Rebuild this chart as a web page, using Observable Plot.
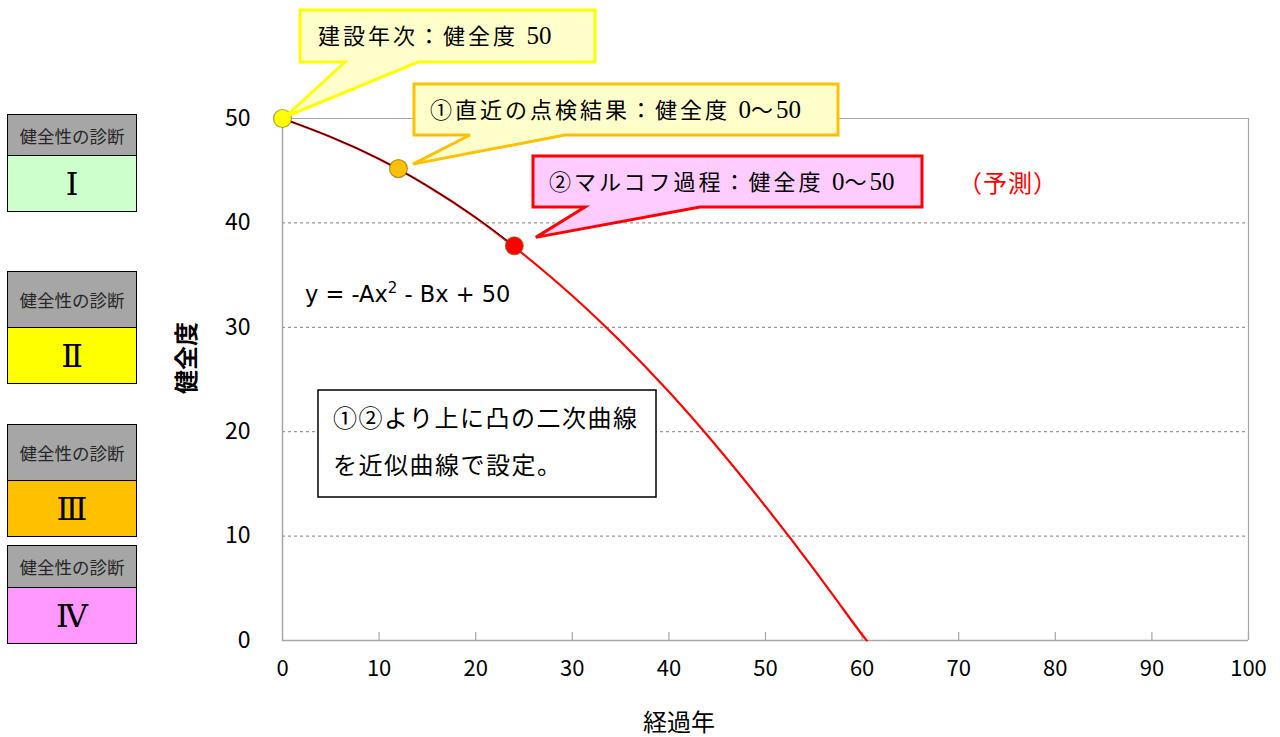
<!DOCTYPE html>
<html>
<head>
<meta charset="utf-8">
<script src="https://cdn.jsdelivr.net/npm/d3@7"></script>
<script src="https://cdn.jsdelivr.net/npm/@observablehq/plot@0.6"></script>
<style>
  body { margin: 0; background: #fff; }
  #wrap { position: relative; width: 1280px; height: 737px; overflow: hidden; background:#fff; }
  .diag { position: absolute; left: 7px; width: 130px; border: 1.5px solid #000; box-sizing: border-box; }
  .diag .hd { background: #a6a6a6; color: #262626; font: 17.5px "Noto Sans CJK JP", sans-serif; display: flex; align-items: center; justify-content: center; border-bottom: 1.5px solid #000; box-sizing: border-box; }
  .diag .bd { color: #000; font: 32px "Liberation Serif", "DejaVu Serif", "Noto Sans CJK JP", serif; display: flex; align-items: center; justify-content: center; }
</style>
</head>
<body>
<div id="wrap"></div>
<script>
// ---- data ----
const curveYears  = [0, 5, 10, 15, 20, 25, 30, 35, 40, 45, 50, 55, 60, 60.5];
const curveHealth = [50, 48.3, 46.2, 43.6, 40.6, 37.0, 33.1, 28.7, 23.9, 18.6, 12.9, 6.9, 0.5, 0];
const pointYears  = [0, 12, 24];
const pointHealth = [50, 45.2, 37.8];
const pointColors = ["#ffff00", "#ffc000", "#ff0000"];
const xTicks = [0, 10, 20, 30, 40, 50, 60, 70, 80, 90, 100];
const yTicks = [0, 10, 20, 30, 40, 50];
const gridValues = [10, 20, 30, 40];
const diagLabels = ["Ⅰ", "Ⅱ", "Ⅲ", "Ⅳ"];
const diagHeader = "健全性の診断";
const calloutTexts = ["建設年次：健全度 50", "①直近の点検結果：健全度 0〜50", "②マルコフ過程：健全度 0〜50"];
const noteLines = ["①②より上に凸の二次曲線", "を近似曲線で設定。"];
const forecastText = "（予測）";
const xLabel = "経過年";
const yLabel = "健全度";

const curve = curveYears.map((x, i) => ({x, y: curveHealth[i]}));
const measured = curve.filter(d => d.x <= 20).concat([{x: pointYears[2], y: pointHealth[2]}]);
const points = pointYears.map((x, i) => ({x, y: pointHealth[i], c: pointColors[i]}));

const plot = Plot.plot({
  width: 1280, height: 737,
  marginLeft: 282, marginRight: 32, marginTop: 118, marginBottom: 97,
  style: {background: "#fff", fontFamily: "'Noto Sans CJK JP', sans-serif"},
  x: {domain: [0, 100]},
  y: {domain: [0, 50]},
  marks: [
    Plot.ruleY(gridValues, {stroke: "#808080", strokeWidth: 1, strokeDasharray: "3,3"}),
    Plot.ruleY([50], {stroke: "#a6a6a6", strokeWidth: 1.2}),
    Plot.ruleX([100], {stroke: "#a6a6a6", strokeWidth: 1.2}),
    Plot.ruleX([0], {stroke: "#a6a6a6", strokeWidth: 1.5}),
    Plot.ruleY([0], {stroke: "#a6a6a6", strokeWidth: 1.5}),
    Plot.ruleX(xTicks.slice(1), {y1: 0, y2: 0, insetTop: -8, stroke: "#a6a6a6", strokeWidth: 1.2}),
    Plot.axisX({ticks: xTicks, tickSize: 0, tickPadding: 20, fontSize: 22, label: null, tickFormat: d => d, fill: "#000"}),
    Plot.axisY({ticks: yTicks, tickSize: 0, tickPadding: 32, fontSize: 23, label: null, tickFormat: d => d, fill: "#000"}),
    Plot.line(curve, {x: "x", y: "y", stroke: "#ff0000", strokeWidth: 2.2, curve: "basis"}),
    Plot.line(measured, {x: "x", y: "y", stroke: "#000", strokeWidth: 1, curve: "basis"}),
    Plot.dot(points, {x: "x", y: "y", r: 9, fill: "c", stroke: "#7f6000", strokeOpacity: 0.6, strokeWidth: 1.2})
  ]
});

const wrap = document.getElementById("wrap");
wrap.appendChild(plot);

// ---- annotations, tips anchored to the data points through the scales ----
const sx = plot.scale("x"), sy = plot.scale("y");
const svg = d3.select(plot);
const g = svg.append("g").attr("text-anchor", "start");

function richText(sel, str) {
  str.split(/([0-9]+)/).filter(s => s.length).forEach(part => {
    const t = sel.append("tspan").text(part);
    if (/^[0-9]+$/.test(part)) t.attr("letter-spacing", 0).attr("font-size", 25);
  });
}

const boxes = [
  {x0: 300, y0: 10, x1: 595, y1: 62, wl: 345, wr: 418, fill: "#ffffcc", stroke: "#ffff00", tx: 318},
  {x0: 414, y0: 84, x1: 838, y1: 135, wl: 470, wr: 565, fill: "#ffffcc", stroke: "#ffc000", tx: 430},
  {x0: 533, y0: 156, x1: 922, y1: 207, wl: 585, wr: 700, fill: "#ffccff", stroke: "#ff0000", tx: 549}
];
const tipOffsets = [[3, -1], [15, -4], [22, -8]];
boxes.forEach((b, i) => {
  const px = sx.apply(pointYears[i]) + tipOffsets[i][0];
  const py = sy.apply(pointHealth[i]) + tipOffsets[i][1];
  g.append("path")
    .attr("d", `M${b.x0},${b.y0}H${b.x1}V${b.y1}H${b.wr}L${px},${py}L${b.wl},${b.y1}H${b.x0}Z`)
    .attr("fill", b.fill).attr("stroke", b.stroke).attr("stroke-width", 3).attr("stroke-linejoin", "miter");
  const t = g.append("text")
    .attr("x", b.tx).attr("y", (b.y0 + b.y1) / 2 + 8).attr("text-anchor", "start")
    .attr("font-family", "'Liberation Serif', 'Noto Sans CJK JP', serif")
    .attr("font-size", 22).attr("letter-spacing", 3).attr("fill", "#000");
  richText(t, calloutTexts[i]);
});

g.append("text").attr("x", 958).attr("y", 183).attr("dy", "0.36em").attr("text-anchor", "start")
  .attr("font-family", "'Noto Sans CJK JP', sans-serif").attr("font-size", 24).attr("letter-spacing", 1).attr("fill", "#ff0000")
  .text(forecastText);

// formula
const f = g.append("text").attr("x", 305).attr("y", 302).attr("text-anchor", "start")
  .attr("font-family", "'DejaVu Sans', sans-serif").attr("font-size", 22.5).attr("fill", "#000");
f.append("tspan").text("y = -Ax");
f.append("tspan").attr("font-size", 15).attr("dy", -9).text("2");
f.append("tspan").attr("dy", 9).text(" - Bx + 50");

// note box
g.append("rect").attr("x", 318).attr("y", 390).attr("width", 338).attr("height", 107)
  .attr("fill", "#fff").attr("stroke", "#000").attr("stroke-width", 1.5);
noteLines.forEach((t, i) => {
  g.append("text").attr("x", 333).attr("y", 418 + i * 47).attr("dy", "0.36em").attr("text-anchor", "start")
    .attr("font-family", "'Liberation Serif', 'Noto Sans CJK JP', serif")
    .attr("font-size", 24).attr("letter-spacing", 1.5).attr("fill", "#000").text(t);
});

// axis labels
g.append("text").attr("x", 679).attr("y", 722).attr("dy", "0.36em").attr("text-anchor", "middle")
  .attr("font-family", "'Noto Sans CJK JP', sans-serif").attr("font-size", 24).attr("fill", "#000").text(xLabel);
g.append("text").attr("transform", "translate(186,358) rotate(-90)").attr("dy", "0.36em").attr("text-anchor", "middle")
  .attr("font-family", "'Noto Sans CJK JP', sans-serif").attr("font-size", 24).attr("font-weight", "bold").attr("fill", "#000").text(yLabel);

// diagnosis boxes
const diagLayout = [
  {top: 114, hd: 41, bd: 55, color: "#ccffcc"},
  {top: 271, hd: 56, bd: 55, color: "#ffff00"},
  {top: 424, hd: 56, bd: 55, color: "#ffc000"},
  {top: 545, hd: 42, bd: 55, color: "#ff99ff"}
];
diagLabels.forEach((lab, i) => {
  const L = diagLayout[i];
  const d = document.createElement("div");
  d.className = "diag";
  d.style.top = L.top + "px";
  d.innerHTML = `<div class="hd" style="height:${L.hd}px">${diagHeader}</div><div class="bd" style="height:${L.bd}px;background:${L.color}">${lab}</div>`;
  wrap.appendChild(d);
});
</script>
</body>
</html>
